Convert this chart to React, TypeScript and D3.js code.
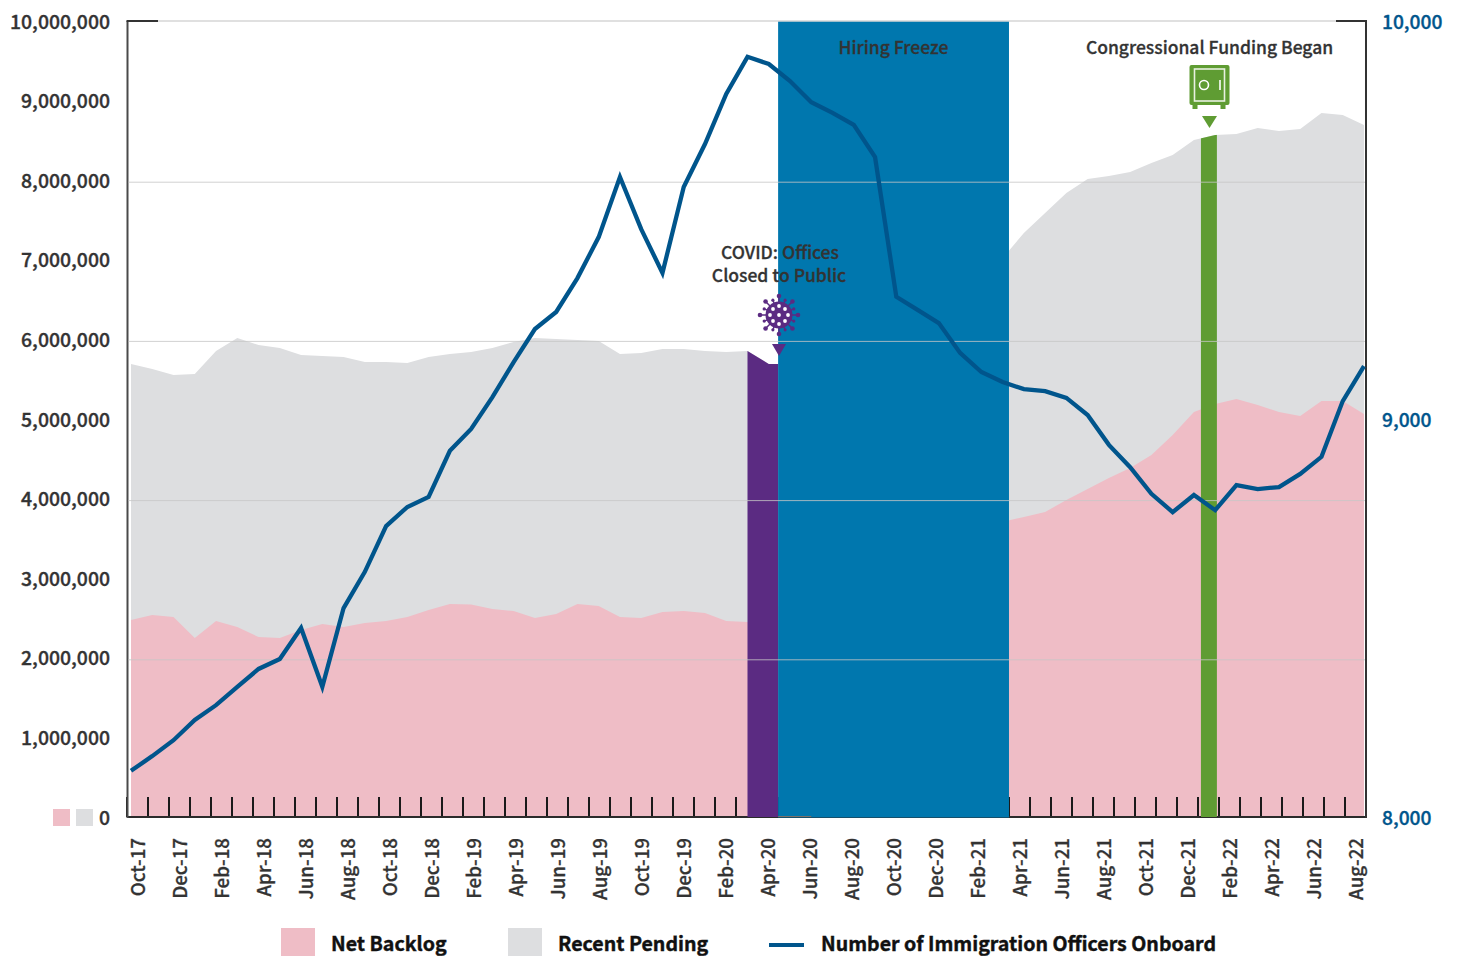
import React from 'react';
import * as d3 from 'd3';

// months on the bottom axis, one per band
const months = [
  'Oct-17', 'Nov-17', 'Dec-17', 'Jan-18', 'Feb-18', 'Mar-18', 'Apr-18', 'May-18', 'Jun-18', 'Jul-18', 'Aug-18', 'Sep-18',
  'Oct-18', 'Nov-18', 'Dec-18', 'Jan-19', 'Feb-19', 'Mar-19', 'Apr-19', 'May-19', 'Jun-19', 'Jul-19', 'Aug-19', 'Sep-19',
  'Oct-19', 'Nov-19', 'Dec-19', 'Jan-20', 'Feb-20', 'Mar-20', 'Apr-20', 'May-20', 'Jun-20', 'Jul-20', 'Aug-20', 'Sep-20',
  'Oct-20', 'Nov-20', 'Dec-20', 'Jan-21', 'Feb-21', 'Mar-21', 'Apr-21', 'May-21', 'Jun-21', 'Jul-21', 'Aug-21', 'Sep-21',
  'Oct-21', 'Nov-21', 'Dec-21', 'Jan-22', 'Feb-22', 'Mar-22', 'Apr-22', 'May-22', 'Jun-22', 'Jul-22', 'Aug-22',
];

// millions of cases; May-20 to Mar-21 sit behind the hiring freeze band so they are guesses
const netBacklog = [
  2.475, 2.538, 2.513, 2.249, 2.462, 2.387, 2.261, 2.249, 2.349, 2.425, 2.387, 2.437,
  2.462, 2.513, 2.6, 2.676, 2.67, 2.613, 2.588, 2.5, 2.55, 2.676, 2.651, 2.513,
  2.5, 2.575, 2.588, 2.563, 2.462, 2.45, 2.6, 2.7, 2.8, 2.9, 3.0, 3.1,
  3.25, 3.35, 3.45, 3.55, 3.65, 3.71, 3.769, 3.832, 3.982, 4.121, 4.259, 4.385,
  4.548, 4.799, 5.088, 5.188, 5.251, 5.176, 5.088, 5.038, 5.226, 5.226, 5.063,
];

const recentPending = [
  3.216, 3.09, 3.04, 3.317, 3.392, 3.631, 3.669, 3.643, 3.455, 3.367, 3.392, 3.279,
  3.254, 3.191, 3.179, 3.141, 3.172, 3.279, 3.379, 3.518, 3.455, 3.317, 3.329, 3.304,
  3.329, 3.304, 3.291, 3.291, 3.38, 3.404, 3.091, 2.991, 3.0, 3.05, 3.1, 3.15,
  3.15, 3.2, 3.25, 3.25, 3.25, 3.31, 3.568, 3.756, 3.857, 3.894, 3.794, 3.718,
  3.668, 3.518, 3.417, 3.38, 3.33, 3.48, 3.53, 3.605, 3.618, 3.593, 3.631,
];

const officers = [
  8116, 8153, 8193, 8244, 8281, 8327, 8372, 8397, 8475, 8327, 8525, 8616,
  8731, 8779, 8804, 8920, 8975, 9055, 9143, 9226, 9269, 9354, 9457, 9608,
  9477, 9367, 9583, 9691, 9817, 9910, 9892, 9849, 9796, 9769, 9739, 9658,
  9307, 9274, 9241, 9166, 9118, 9093, 9075, 9070, 9053, 9010, 8935, 8879,
  8812, 8766, 8809, 8771, 8834, 8824, 8829, 8862, 8905, 9045, 9133,
];

const leftTicks = [0, 1, 2, 3, 4, 5, 6, 7, 8, 9, 10];
const gridTicks = [2, 4, 6, 8];
const rightTicks = [8000, 9000, 10000];

const PINK = '#efbdc6';
const GREY = '#dddee0';
const BLUE = '#0077ae';
const PURPLE = '#5b2b82';
const GREEN = '#5f9c33';
const NAVY = '#00558c';
const INK = '#333333';
const FONT = '"Noto Sans CJK SC", "Noto Sans", sans-serif';

const left = 127.5;
const right = 1366;
const top = 21;
const bottom = 817;

const x = d3.scaleLinear().domain([0, months.length - 1]).range([131, 1364]);
const xBand = d3.scaleBand<string>().domain(months).range([127, right]);
const y = d3.scaleLinear().domain([0, 10]).range([bottom, top]);
const yGrid = d3.scaleLinear().domain([0, 10]).range([bottom + 2, top + 2]);
const yRight = d3.scaleLinear().domain([8000, 10000]).range([bottom, top]);

const totals = netBacklog.map((d, i) => d + recentPending[i]);
const indexes = d3.range(months.length);

const backlogArea = d3.area<number>().x(i => x(i)).y0(bottom).y1(i => y(netBacklog[i]))(indexes);
const totalArea = d3.area<number>().x(i => x(i)).y0(bottom).y1(i => y(totals[i]))(indexes);
const officerLine = d3.line<number>().x(i => x(i)).y(i => yRight(officers[i]))(indexes);

// event bands in month index units
const covidBand = [29, 30.44];
const freezeBand = [30.44, 41.3];
const fundingBand = [50.33, 51.08];

const Virus = ({ cx, cy }: { cx: number; cy: number }) => {
  const spikes = d3.range(16).map(i => (i * Math.PI) / 8);
  const holes = [[0, -9], [-6, -6], [6, -6], [-9, 0], [0, 0], [9, 0], [-6, 6], [6, 6], [0, 9]];
  return (
    <g transform={`translate(${cx},${cy})`} fill={PURPLE} stroke={PURPLE}>
      {spikes.map((a, i) => {
        const r = i % 2 === 0 ? 19 : 16;
        return (
          <g key={i}>
            <line x1={0} y1={0} x2={r * Math.cos(a)} y2={r * Math.sin(a)} strokeWidth={1.5} />
            <circle cx={r * Math.cos(a)} cy={r * Math.sin(a)} r={i % 2 === 0 ? 2.3 : 1.6} stroke="none" />
          </g>
        );
      })}
      <circle r={13.5} stroke="none" />
      {holes.map(([hx, hy], i) => (
        <circle key={i} cx={hx} cy={hy} r={1.9} fill="#fff" stroke="none" />
      ))}
    </g>
  );
};

const Safe = ({ cx, cy }: { cx: number; cy: number }) => (
  <g transform={`translate(${cx},${cy})`}>
    <rect x={-17} y={20} width={5} height={4} fill={GREEN} />
    <rect x={11} y={20} width={5} height={4} fill={GREEN} />
    <rect x={-20} y={-20} width={40} height={40} rx={2} fill={GREEN} />
    <rect x={-15} y={-16} width={30} height={32} fill="none" stroke="#e8f0e0" strokeWidth={1.6} />
    <circle cx={-5.5} cy={0} r={4.5} fill="none" stroke="#fff" strokeWidth={1.6} />
    <line x1={10.5} x2={10.5} y1={-5} y2={5} stroke="#fff" strokeWidth={1.6} />
  </g>
);

const App = () => {
  const clipTop = y(10);
  const bar = (band: number[]) => ({ x: x(band[0]), width: x(band[1]) - x(band[0]) });

  return (
    <svg
      width={1460}
      height={956}
      style={{ position: 'fixed', left: 0, top: 0, background: '#fff' }}
      fontFamily={FONT}
      fontWeight={500}
    >
      <defs>
        <clipPath id="under-total">
          <path d={totalArea!} />
        </clipPath>
      </defs>

      <path d={totalArea!} fill={GREY} />
      <path d={backlogArea!} fill={PINK} />

      {/* month ticks sit under the event bands */}
      {months.map(m => (
        <line
          key={m}
          x1={xBand(m)!}
          x2={xBand(m)!}
          y1={797}
          y2={bottom}
          stroke="#1a1a1a"
          strokeWidth={2}
        />
      ))}
      <line x1={left} x2={right} y1={bottom} y2={bottom} stroke="#2b2b2b" strokeWidth={2} />
      <line x1={left} x2={left} y1={top} y2={bottom + 1} stroke="#4a4a4a" strokeWidth={2} />
      <line x1={right} x2={right} y1={top} y2={bottom + 1} stroke="#333" strokeWidth={2} />

      <rect {...bar(covidBand)} y={clipTop} height={bottom - clipTop + 0.5} fill={PURPLE} clipPath="url(#under-total)" />
      <rect {...bar(freezeBand)} y={clipTop} height={bottom - clipTop + 0.5} fill={BLUE} />
      <rect {...bar(fundingBand)} y={clipTop} height={bottom - clipTop + 0.5} fill={GREEN} clipPath="url(#under-total)" />
      <line x1={x(freezeBand[0])} x2={x(32)} y1={816.5} y2={816.5} stroke="#7b7068" strokeWidth={1} />

      {gridTicks.map(t => (
        <line
          key={t}
          x1={left + 1}
          x2={right - 1}
          y1={yGrid(t)}
          y2={yGrid(t)}
          stroke="#c6c6c6"
          strokeOpacity={0.8}
          strokeWidth={1}
        />
      ))}
      <line x1={158} x2={1336} y1={top} y2={top} stroke="#d6d6d6" strokeWidth={1.5} />
      <line x1={left - 1} x2={158} y1={top} y2={top} stroke="#333" strokeWidth={2} />
      <line x1={1336} x2={right + 1} y1={top} y2={top} stroke="#333" strokeWidth={2} />

      <path d={officerLine!} fill="none" stroke={NAVY} strokeWidth={4.3} strokeLinejoin="miter" />

      <g stroke={INK} strokeWidth={0.35}>
        {leftTicks.map(t => (
          <text key={t} x={110} y={y(t) + 7.5} textAnchor="end" fontSize={19.4} fill={INK}>
            {d3.format(',')(t * 1000000)}
          </text>
        ))}
      </g>
      <g stroke={NAVY} strokeWidth={0.35}>
        {rightTicks.map(t => (
          <text key={t} x={1382} y={yRight(t) + 8} fontSize={19.2} fill={NAVY}>
            {d3.format(',')(t)}
          </text>
        ))}
      </g>

      <g stroke={INK} strokeWidth={0.3}>
        {months.filter((_, i) => i % 2 === 0).map(m => (
          <text
            key={m}
            transform={`translate(${xBand(m)! + xBand.bandwidth() / 2 + 7.5},838) rotate(-90)`}
            textAnchor="end"
            fontSize={18.7}
            fill={INK}
          >
            {m}
          </text>
        ))}
      </g>

      <rect x={53} y={809} width={17} height={17} fill={PINK} />
      <rect x={76} y={809} width={17} height={17} fill={GREY} />

      <g fontSize={17.5} fill={INK} stroke={INK} strokeWidth={0.3} textAnchor="middle">
        <text x={893.5} y={54}>Hiring Freeze</text>
        <text x={1209.5} y={54}>Congressional Funding Began</text>
        <text x={780} y={259}>COVID: Offices</text>
        <text x={779} y={282}>Closed to Public</text>
      </g>

      <Virus cx={779} cy={315} />
      <path d={d3.line()([[772, 344], [786, 344], [779, 356]])! + 'Z'} fill={PURPLE} />
      <Safe cx={1209.5} cy={85} />
      <path d={d3.line()([[1202, 116], [1217, 116], [1209.5, 128]])! + 'Z'} fill={GREEN} />

      <rect x={281} y={928} width={34} height={34} fill={PINK} />
      <rect x={508} y={928} width={34} height={34} fill={GREY} />
      <line x1={769} x2={804} y1={945} y2={945} stroke={NAVY} strokeWidth={4} />
      <g fontSize={19.6} fontWeight={700} fill="#111" stroke="#111" strokeWidth={0.4}>
        <text x={331} y={951}>Net Backlog</text>
        <text x={558} y={951}>Recent Pending</text>
        <text x={821} y={951}>Number of Immigration Officers Onboard</text>
      </g>
    </svg>
  );
};

export default App;
